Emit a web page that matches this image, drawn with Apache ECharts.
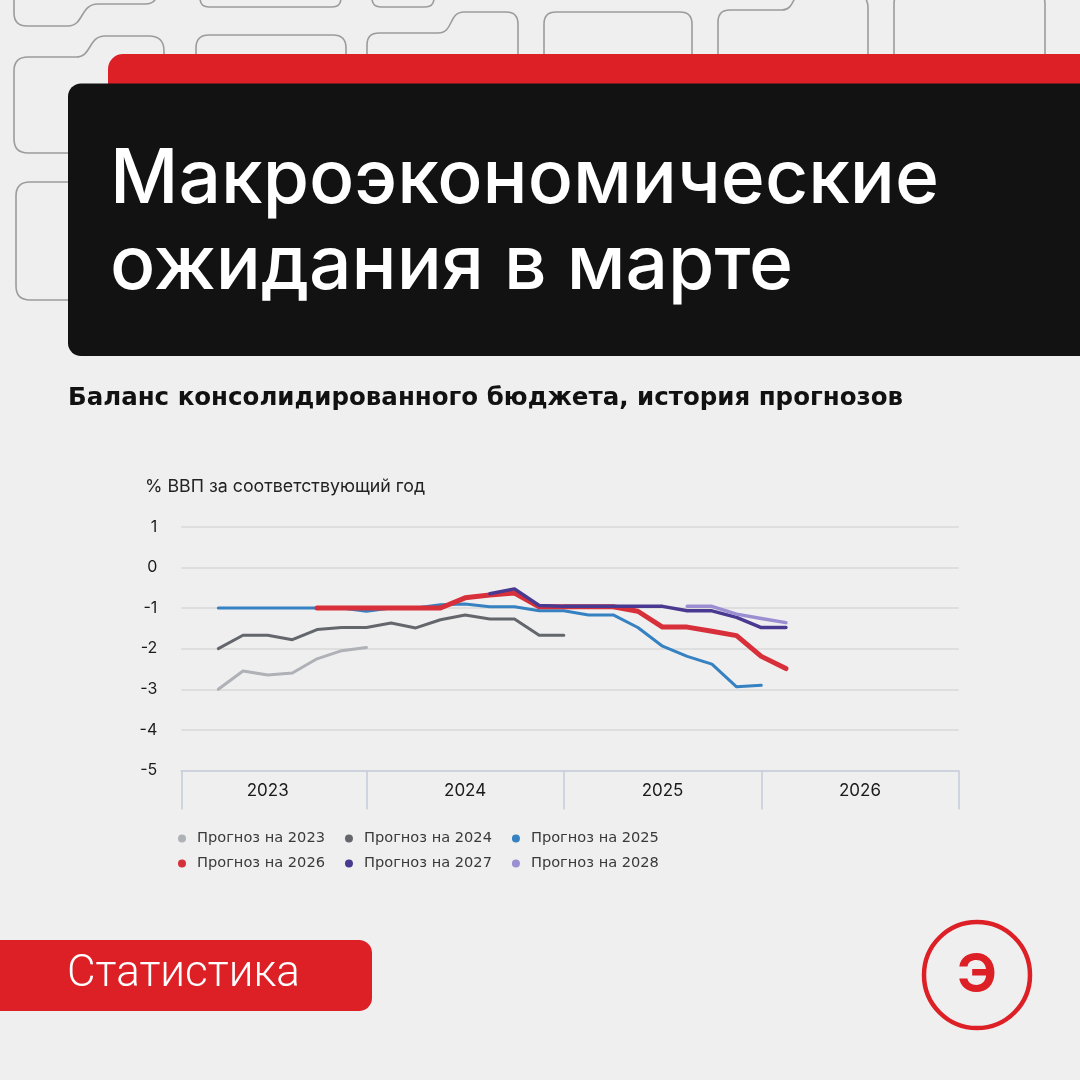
<!DOCTYPE html>
<html>
<head>
<meta charset="utf-8">
<script src="https://cdn.jsdelivr.net/npm/echarts@6/dist/echarts.min.js"></script>
<style>
html,body{margin:0;padding:0;background:#efefef;}
#chart{width:1080px;height:1080px;}
</style>
</head>
<body>
<div id="chart"></div>
<script>
// ---- data ----
const titleText = 'Макроэкономические\nожидания в марте';
const subtitleText = 'Баланс консолидированного бюджета, история прогнозов';
const unitText = '% ВВП за соответствующий год';
const tagText = 'Статистика';
const yearLabels = ['2023', '2024', '2025', '2026'];
const seriesNames = ['Прогноз на 2023', 'Прогноз на 2024', 'Прогноз на 2025',
                     'Прогноз на 2026', 'Прогноз на 2027', 'Прогноз на 2028'];
// values by survey number (0..23); null = forecast not published in that survey
const f2023 = [-3.0, -2.55, -2.65, -2.6, -2.25, -2.05, -1.97, null, null, null, null, null,
               null, null, null, null, null, null, null, null, null, null, null, null];
const f2024 = [-2.0, -1.67, -1.67, -1.78, -1.53, -1.48, -1.48, -1.37, -1.49, -1.29, -1.17, -1.27,
               -1.27, -1.67, -1.67, null, null, null, null, null, null, null, null, null];
const f2025 = [-1.0, -1.0, -1.0, -1.0, -1.0, -1.0, -1.08, -1.0, -1.0, -0.92, -0.9, -0.97,
               -0.97, -1.07, -1.07, -1.17, -1.17, -1.48, -1.94, -2.19, -2.38, -2.94, -2.9, null];
const f2026 = [null, null, null, null, -1.0, -1.0, -1.0, -1.0, -1.0, -1.0, -0.75, -0.68,
               -0.63, -0.97, -0.97, -0.97, -0.97, -1.08, -1.47, -1.47, -1.57, -1.68, -2.19, -2.49];
const f2027 = [null, null, null, null, null, null, null, null, null, null, null, -0.65,
               -0.53, -0.94, -0.96, -0.96, -0.96, -0.96, -0.96, -1.07, -1.07, -1.23, -1.48, -1.48];
const f2028 = [null, null, null, null, null, null, null, null, null, null, null, null,
               null, null, null, null, null, null, null, -0.96, -0.96, -1.15, -1.26, -1.36];
const yTicks = {min: -5, max: 1, step: 1};
const SURVEYS_PER_YEAR = 8;
const FIRST_YEAR_START = -2;   // survey number where the 2023 band begins
const X_MIN = -1.5;            // visible start of the axis

// ---- styles ----
const colors = ['#aeb1b5', '#63676c', '#3581c1', '#d7303a', '#4a3991', '#9b8fd2'];
const widths = [3, 3, 3, 5, 3.5, 3.5];
const RED = '#dd1f26';
const DECO = '#9c9c9c';

const allForecasts = [f2023, f2024, f2025, f2026, f2027, f2028];
const toPairs = arr => arr.map((v, i) => [i, v]).filter(p => p[1] !== null);

const X_MAX = FIRST_YEAR_START + SURVEYS_PER_YEAR * yearLabels.length;
const bandEdges = [X_MIN].concat(yearLabels.map((_, k) => FIRST_YEAR_START + SURVEYS_PER_YEAR * (k + 1)));
const labelCenters = yearLabels.map((_, k) => FIRST_YEAR_START + SURVEYS_PER_YEAR * k + SURVEYS_PER_YEAR / 2);

const chart = echarts.init(document.getElementById('chart'), null, {renderer: 'canvas'});

const decoPaths = [
  'M 14 -8 L 14 13 Q 14 26 27 26 L 68 26 C 84 26 80 4 98 4 L 145 4 Q 157 4 157 -8',
  'M 200 -10 L 200 -2 Q 200 7 209 7 L 332 7 Q 341 7 341 -2 L 341 -10',
  'M 372 -10 L 372 -2 Q 372 7 381 7 L 425 7 Q 434 7 434 -2 L 434 -10',
  'M 80 153 L 28 153 Q 14 153 14 139 L 14 71 Q 14 57 28 57 L 76 57 C 92 57 88 36 105 36 L 149 36 Q 164 36 164 51 L 164 60',
  'M 196 60 L 196 48 Q 196 35 209 35 L 333 35 Q 346 35 346 48 L 346 60',
  'M 367 60 L 367 45 Q 367 33 379 33 L 438 33 C 454 33 448 12 464 12 L 506 12 Q 518 12 518 24 L 518 60',
  'M 544 60 L 544 24 Q 544 12 556 12 L 680 12 Q 692 12 692 24 L 692 60',
  'M 718 60 L 718 22 Q 718 10 730 10 L 782 10 C 796 10 792 -10 806 -10',
  'M 868 60 L 868 8 Q 868 0 863 -5',
  'M 894 60 L 894 4 Q 894 -8 906 -8 L 1033 -8 Q 1045 -8 1045 4 L 1045 60',
  'M 80 182 L 30 182 Q 16 182 16 196 L 16 286 Q 16 300 30 300 L 80 300'
];

function renderDecor() {
  const children = decoPaths.map(p => ({
    type: 'path', shape: {pathData: p},
    style: {stroke: DECO, lineWidth: 1.6, fill: 'none'}
  }));
  children.push(
    {type: 'rect', shape: {x: 108, y: 54, width: 1000, height: 60, r: [15, 0, 0, 0]}, style: {fill: RED}},
    {type: 'rect', shape: {x: 68, y: 83.5, width: 1030, height: 272.5, r: [13, 0, 0, 13]}, style: {fill: '#121212'}},
    {type: 'rect', shape: {x: -30, y: 940, width: 402, height: 71, r: 13}, style: {fill: RED}},
    {type: 'text', style: {text: tagText, x: 67, y: 975, fill: '#ffffff', font: '300 44px Roboto', verticalAlign: 'middle'}},
    {type: 'circle', shape: {cx: 977, cy: 975, r: 53}, style: {stroke: RED, lineWidth: 4.5, fill: 'none'}},
    {type: 'text', style: {text: 'Э', x: 977, y: 976, fill: RED, font: '700 54px Inter', align: 'center', verticalAlign: 'middle'}}
  );
  return {type: 'group', children: children};
}

const legendText = {fontFamily: 'DejaVu Sans', fontSize: 14.6, color: '#3a3a3a'};

chart.setOption({
  backgroundColor: '#efefef',
  animation: false,
  title: [
    {text: titleText, left: 110, top: 137, padding: 0,
     textStyle: {color: '#ffffff', fontSize: 75, fontWeight: 500, fontFamily: 'Inter', lineHeight: 86}},
    {text: subtitleText, left: 68, top: 384, padding: 0,
     textStyle: {color: '#111111', fontSize: 24.5, fontWeight: 700, fontFamily: 'DejaVu Sans', lineHeight: 30}},
    {text: unitText, left: 145, top: 477, padding: 0,
     textStyle: {color: '#222222', fontSize: 17.8, fontWeight: 400, fontFamily: 'Inter', lineHeight: 20}}
  ],
  legend: [
    {data: seriesNames.slice(0, 3), left: 178, top: 831, padding: 0, icon: 'circle',
     itemWidth: 20, itemHeight: 8, itemGap: 20, textStyle: legendText},
    {data: seriesNames.slice(3), left: 178, top: 856, padding: 0, icon: 'circle',
     itemWidth: 20, itemHeight: 8, itemGap: 20, textStyle: legendText}
  ],
  grid: {left: 181.3, right: 121.3, top: 526.7, bottom: 309.4, containLabel: false},
  xAxis: {
    type: 'value', min: X_MIN, max: X_MAX,
    axisLine: {show: true, onZero: false, lineStyle: {color: '#c7cedb', width: 1.6}},
    axisTick: {show: true, customValues: bandEdges, length: 39, inside: false,
               lineStyle: {color: '#c7cedb', width: 1.6}},
    axisLabel: {show: true, customValues: labelCenters, margin: 12,
                formatter: v => yearLabels[Math.round((v - FIRST_YEAR_START - SURVEYS_PER_YEAR / 2) / SURVEYS_PER_YEAR)],
                fontFamily: 'Inter', fontSize: 17, color: '#1a1a1a'},
    splitLine: {show: false}
  },
  yAxis: {
    type: 'value', min: yTicks.min, max: yTicks.max, interval: yTicks.step,
    axisLine: {show: false}, axisTick: {show: false},
    axisLabel: {margin: 24, fontFamily: 'Inter', fontSize: 16, color: '#1a1a1a'},
    splitLine: {lineStyle: {color: '#d8d8d8', width: 1.5}}
  },
  series: [{
    type: 'custom', coordinateSystem: 'none', silent: true, z: 0,
    data: [0], renderItem: renderDecor
  }].concat(allForecasts.map((arr, k) => ({
    name: seriesNames[k], type: 'line', data: toPairs(arr),
    symbol: 'none', color: colors[k],
    lineStyle: {color: colors[k], width: widths[k], join: 'round', cap: 'round'},
    z: 2 + k
  })))
});
</script>
</body>
</html>
